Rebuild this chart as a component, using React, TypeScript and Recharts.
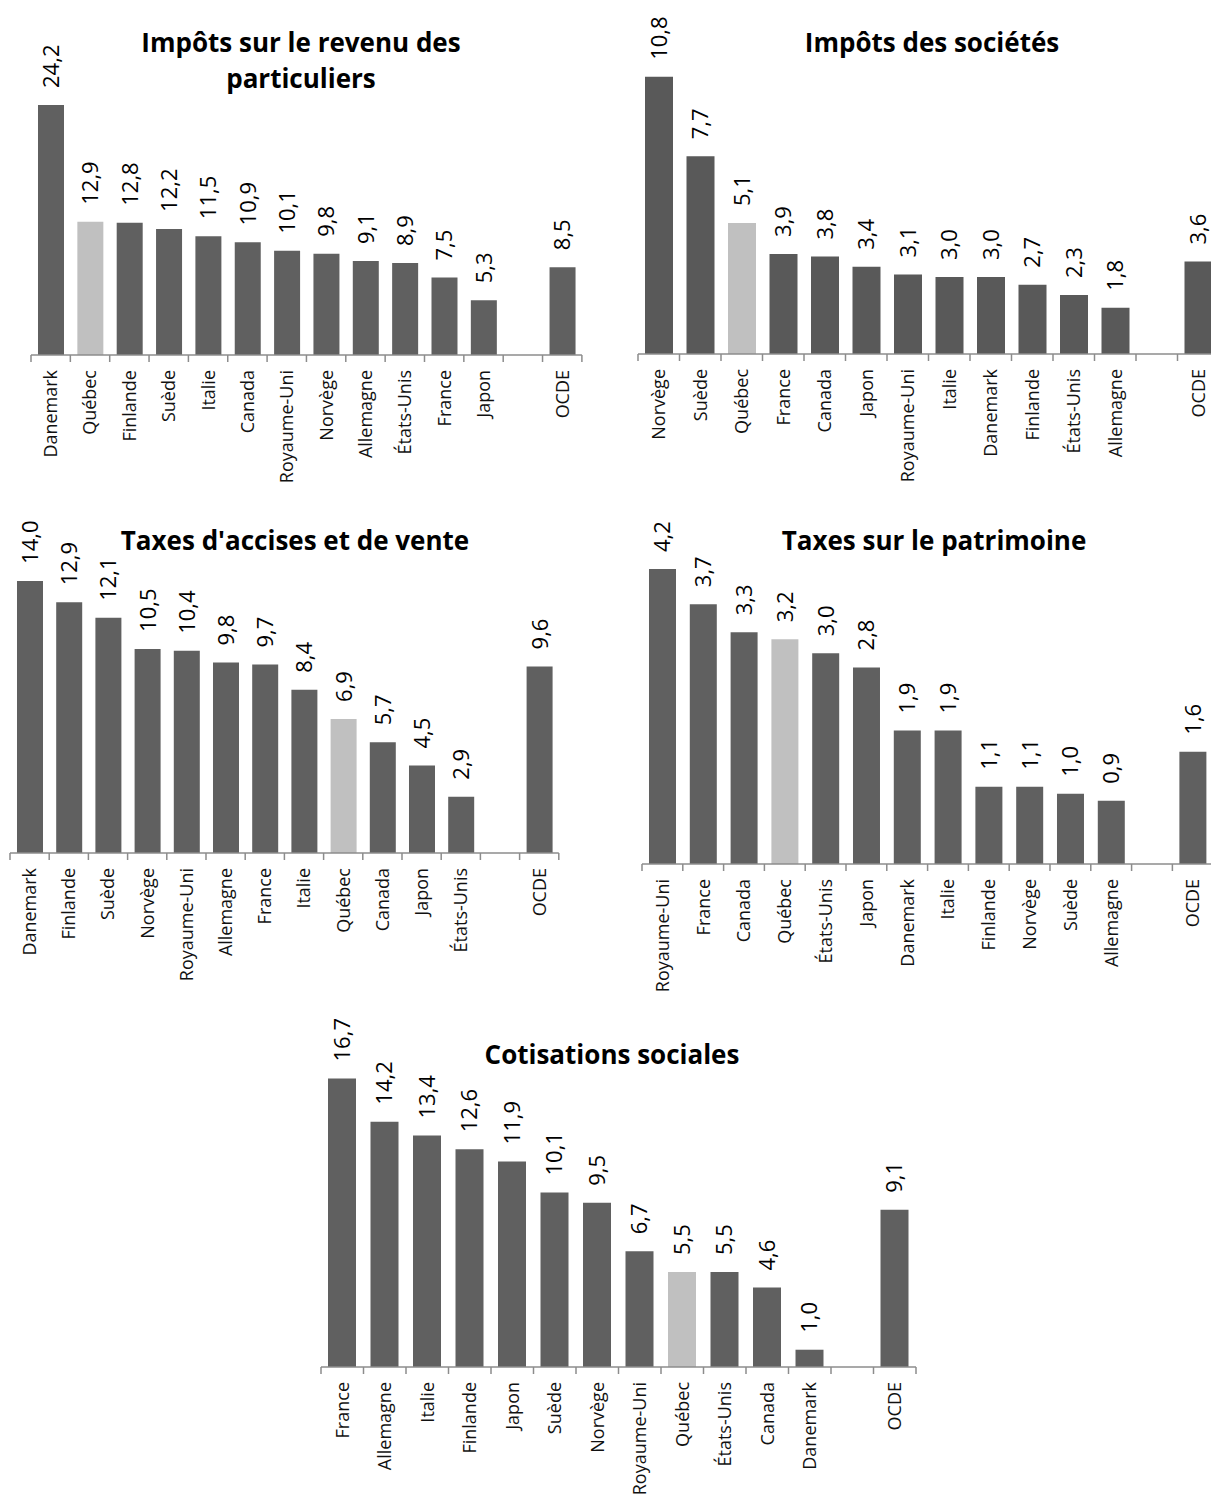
import React from 'react';
import { BarChart, Bar, XAxis, YAxis, Cell, LabelList } from 'recharts';

// Categories and values per tax type (share of total, %)
const revenuNames = ['Danemark', 'Québec', 'Finlande', 'Suède', 'Italie', 'Canada', 'Royaume-Uni', 'Norvège', 'Allemagne', 'États-Unis', 'France', 'Japon', '', 'OCDE'];
const revenuValues = [24.2, 12.9, 12.8, 12.2, 11.5, 10.9, 10.1, 9.8, 9.1, 8.9, 7.5, 5.3, null, 8.5];

const societesNames = ['Norvège', 'Suède', 'Québec', 'France', 'Canada', 'Japon', 'Royaume-Uni', 'Italie', 'Danemark', 'Finlande', 'États-Unis', 'Allemagne', '', 'OCDE'];
const societesValues = [10.8, 7.7, 5.1, 3.9, 3.8, 3.4, 3.1, 3.0, 3.0, 2.7, 2.3, 1.8, null, 3.6];

const accisesNames = ['Danemark', 'Finlande', 'Suède', 'Norvège', 'Royaume-Uni', 'Allemagne', 'France', 'Italie', 'Québec', 'Canada', 'Japon', 'États-Unis', '', 'OCDE'];
const accisesValues = [14.0, 12.9, 12.1, 10.5, 10.4, 9.8, 9.7, 8.4, 6.9, 5.7, 4.5, 2.9, null, 9.6];

const patrimoineNames = ['Royaume-Uni', 'France', 'Canada', 'Québec', 'États-Unis', 'Japon', 'Danemark', 'Italie', 'Finlande', 'Norvège', 'Suède', 'Allemagne', '', 'OCDE'];
const patrimoineValues = [4.2, 3.7, 3.3, 3.2, 3.0, 2.8, 1.9, 1.9, 1.1, 1.1, 1.0, 0.9, null, 1.6];

const cotisationsNames = ['France', 'Allemagne', 'Italie', 'Finlande', 'Japon', 'Suède', 'Norvège', 'Royaume-Uni', 'Québec', 'États-Unis', 'Canada', 'Danemark', '', 'OCDE'];
const cotisationsValues = [16.7, 14.2, 13.4, 12.6, 11.9, 10.1, 9.5, 6.7, 5.5, 5.5, 4.6, 1.0, null, 9.1];

const HIGHLIGHT = 'Québec';
const FONT = '"Open Sans", "Noto Sans", sans-serif';
const AXIS_GREY = '#8c8c8c';

type Layout = {
  axisStart: number; // x of first category boundary
  slot: number; // width of one category band
  axisY: number; // y of the category axis
  max: number; // value at top of plot area
  plotH: number;
  barColor: string;
};

const fmt = (v: number) => v.toFixed(1).replace('.', ',');

function TaxChart({ names, values, layout }: { names: string[]; values: (number | null)[]; layout: Layout }) {
  const data = names.map((name, i) => ({ name, value: values[i] }));
  const padL = 10;
  const padR = 10;
  const padTop = 70;
  const axisH = 140;
  const plotW = layout.slot * names.length;
  const width = padL + plotW + padR;
  const height = padTop + layout.plotH + axisH;
  const barSize = Math.round(layout.slot / 1.5);
  const half = layout.slot / 2;

  const renderTick = (props: any) => {
    const { x, y, payload, index } = props;
    const ty = y + 15;
    return (
      <g>
        <line x1={x - half} x2={x - half} y1={y} y2={y + 7} stroke={AXIS_GREY} strokeWidth={1.5} />
        {index === names.length - 1 && (
          <line x1={x + half} x2={x + half} y1={y} y2={y + 7} stroke={AXIS_GREY} strokeWidth={1.5} />
        )}
        {payload.value ? (
          <text
            x={x}
            y={ty}
            dy="0.36em"
            textAnchor="end"
            transform={`rotate(-90 ${x} ${ty})`}
            fontFamily={FONT}
            fontSize={18}
            fill="#111"
          >
            {payload.value}
          </text>
        ) : null}
      </g>
    );
  };

  const renderValue = (props: any) => {
    const { x, y, width: w, value } = props;
    if (value == null) return null;
    const cx = Number(x) + Number(w) / 2;
    const ty = Number(y) - 17;
    return (
      <text
        x={cx}
        y={ty}
        dy="0.36em"
        textAnchor="start"
        transform={`rotate(-90 ${cx} ${ty})`}
        fontFamily={FONT}
        fontSize={22}
        fill="#000"
      >
        {fmt(value)}
      </text>
    );
  };

  return (
    <div
      style={{
        position: 'absolute',
        left: layout.axisStart - padL,
        top: layout.axisY - layout.plotH - padTop,
      }}
    >
      <BarChart width={width} height={height} data={data} margin={{ top: padTop, right: padR, bottom: 0, left: padL }}>
        <XAxis
          dataKey="name"
          height={axisH}
          interval={0}
          tickSize={0}
          tickMargin={0}
          tickLine={false}
          axisLine={{ stroke: AXIS_GREY, strokeWidth: 1.5 }}
          tick={renderTick}
        />
        <YAxis hide type="number" domain={[0, layout.max]} allowDataOverflow />
        <Bar dataKey="value" barSize={barSize} isAnimationActive={false}>
          {data.map((d, i) => (
            <Cell key={i} fill={d.name === HIGHLIGHT ? '#c0c0c0' : layout.barColor} />
          ))}
          <LabelList dataKey="value" content={renderValue} />
        </Bar>
      </BarChart>
    </div>
  );
}

const titles = [
  { lines: ['Impôts sur le revenu des', 'particuliers'], cx: 301, y: 52 },
  { lines: ['Impôts des sociétés'], cx: 932, y: 52 },
  { lines: ["Taxes d'accises et de vente"], cx: 295, y: 550 },
  { lines: ['Taxes sur le patrimoine'], cx: 934, y: 550 },
  { lines: ['Cotisations sociales'], cx: 612, y: 1064 },
];

export default function App() {
  return (
    <div
      style={{
        position: 'fixed',
        left: 0,
        top: 0,
        width: 1211,
        height: 1497,
        overflow: 'hidden',
        background: '#fff',
      }}
    >
      <TaxChart
        names={revenuNames}
        values={revenuValues}
        layout={{ axisStart: 31, slot: 39.35, axisY: 355, max: 30, plotH: 310, barColor: '#606060' }}
      />
      <TaxChart
        names={societesNames}
        values={societesValues}
        layout={{ axisStart: 638, slot: 41.5, axisY: 354, max: 12, plotH: 308, barColor: '#595959' }}
      />
      <TaxChart
        names={accisesNames}
        values={accisesValues}
        layout={{ axisStart: 10, slot: 39.2, axisY: 853, max: 16, plotH: 311, barColor: '#606060' }}
      />
      <TaxChart
        names={patrimoineNames}
        values={patrimoineValues}
        layout={{ axisStart: 641.7, slot: 40.8, axisY: 864, max: 4.5, plotH: 316, barColor: '#606060' }}
      />
      <TaxChart
        names={cotisationsNames}
        values={cotisationsValues}
        layout={{ axisStart: 320.7, slot: 42.5, axisY: 1367, max: 18, plotH: 311, barColor: '#606060' }}
      />
      <svg
        width={1211}
        height={1497}
        style={{ position: 'absolute', left: 0, top: 0, pointerEvents: 'none' }}
      >
        {titles.map((t) =>
          t.lines.map((line, j) => (
            <text
              key={line}
              x={t.cx}
              y={t.y + j * 36}
              textAnchor="middle"
              fontFamily={FONT}
              fontWeight={700}
              fontSize={26}
              fill="#000"
            >
              {line}
            </text>
          ))
        )}
      </svg>
    </div>
  );
}
